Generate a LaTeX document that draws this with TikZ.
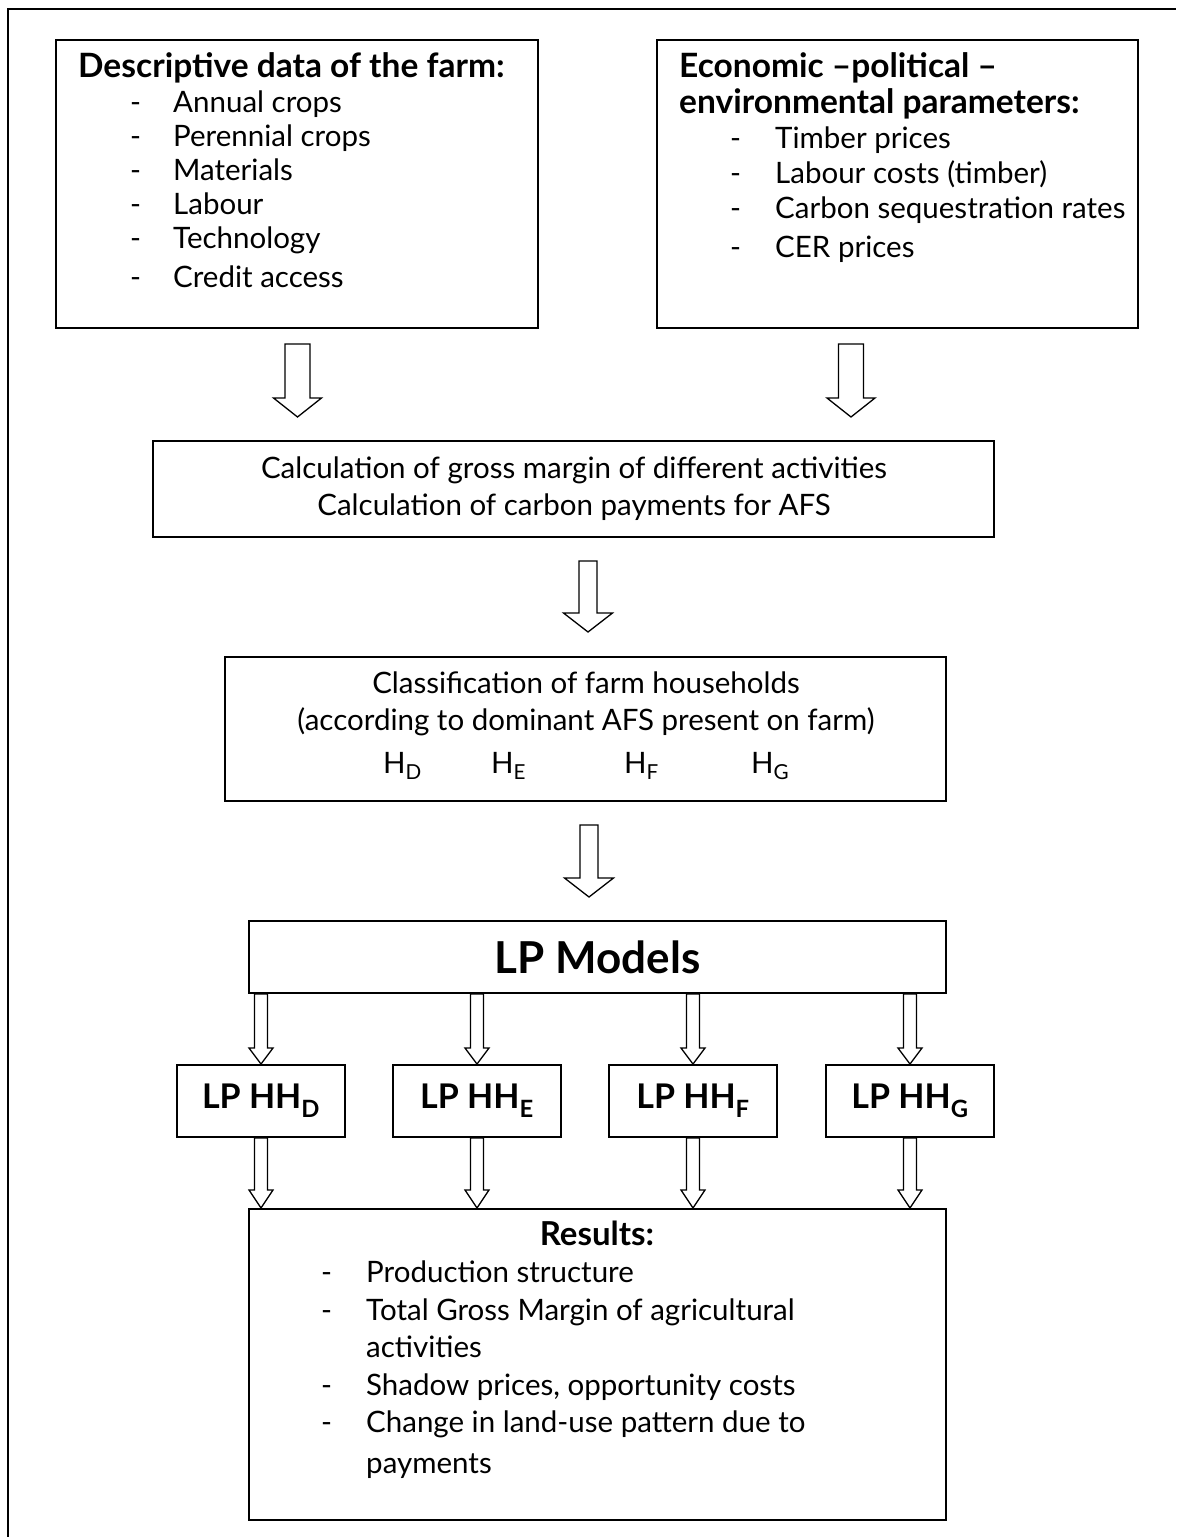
\documentclass[tikz,border=0pt]{standalone}
\usepackage{fontspec}
\setmainfont{Lato}
\usetikzlibrary{calc}
\newcommand{\blockarrow}[5]{% #1 start, #2 tip, #3 shaft half width, #4 head half width, #5 head length
  \draw[arrowline] let \p1=(#1), \p2=(#2) in
    (\x1-#3pt,\y1) -- (\x1+#3pt,\y1) -- (\x1+#3pt,\y2+#5pt) -- (\x1+#4pt,\y2+#5pt)
    -- (\x1,\y2) -- (\x1-#4pt,\y2+#5pt) -- (\x1-#3pt,\y2+#5pt) -- cycle;}
\begin{document}
\begin{tikzpicture}[x=1pt,y=-1pt,
  box/.style={draw,line width=2pt,inner sep=0pt},
  arrowline/.style={draw,line width=1.3pt,line join=miter},
  regtext/.style={inner sep=0pt,font=\fontsize{29.5}{37}\selectfont},
  item/.style={regtext,anchor=base west},
  boldtitle/.style={inner sep=0pt,anchor=base west,font=\fontsize{33.5}{36}\selectfont\bfseries},
  hhlabel/.style={font=\fontsize{34}{36}\selectfont\bfseries}]
\useasboundingbox (0,0) rectangle (1176,1537);
% outer frame (only top and left edges visible)
\draw[line width=2.3pt] (8,1537) -- (8,9) -- (1176,9);

% boxes
\node[box,minimum width=482pt,minimum height=288pt] (b1) at (297,184) {};
\node[box,minimum width=481pt,minimum height=288pt] (b2) at (897.5,184) {};
\node[box,minimum width=841pt,minimum height=96pt] (calc) at (573.5,489) {};
\node[box,minimum width=721pt,minimum height=144pt] (cls) at (585.5,729) {};
\node[box,minimum width=697pt,minimum height=72pt,font=\fontsize{44}{48}\selectfont\bfseries] (lp) at (597.5,957) {LP Models};
\node[box,minimum width=168pt,minimum height=72pt,hhlabel] (hhD) at (261,1101) {LP HH\textsubscript{D}};
\node[box,minimum width=168pt,minimum height=72pt,hhlabel] (hhE) at (477,1101) {LP HH\textsubscript{E}};
\node[box,minimum width=168pt,minimum height=72pt,hhlabel] (hhF) at (693,1101) {LP HH\textsubscript{F}};
\node[box,minimum width=168pt,minimum height=72pt,hhlabel] (hhG) at (910,1101) {LP HH\textsubscript{G}};
\node[box,minimum width=697pt,minimum height=311pt] (res) at (597.5,1364.5) {};

% box 1 text
\node[boldtitle] (t1) at (78,77) {Descriptive data of the farm:};
\foreach \yy/\lbl [count=\i] in {112/Annual crops,146/Perennial crops,180/Materials,214/Labour,248/Technology,287/Credit access}{
  \node[item] (d1\i) at (130,\yy) {-};
  \node[item] (i1\i) at (173,\yy) {\lbl};}

% box 2 text
\node[boldtitle] (t2a) at (679,77) {Economic –political –};
\node[boldtitle] (t2b) at (679,113) {environmental parameters:};
\foreach \yy/\lbl [count=\i] in {148/Timber prices,183/Labour costs (timber),218/Carbon sequestration rates,257/CER prices}{
  \node[item] (d2\i) at (730,\yy) {-};
  \node[item] (i2\i) at (775,\yy) {\lbl};}

% calculation text
\node[regtext,anchor=base] (k1) at (574,478) {Calculation of gross margin of different activities};
\node[regtext,anchor=base] (k2) at (574,515) {Calculation of carbon payments for AFS};

% classification text
\node[regtext,anchor=base] (c1) at (586,693) {Classification of farm households};
\node[regtext,anchor=base] (c2) at (586,730) {(according to dominant AFS present on farm)};
\node[item] (hD) at (383,773) {H\textsubscript{D}};
\node[item] (hE) at (491,773) {H\textsubscript{E}};
\node[item] (hF) at (624,773) {H\textsubscript{F}};
\node[item] (hG) at (751,773) {H\textsubscript{G}};

% results text
\node[inner sep=0pt,anchor=base,font=\fontsize{33}{36}\selectfont\bfseries] (rt) at (597,1245) {Results:};
\foreach \yy in {1282,1320,1395,1432}{\node[item] at (321,\yy) {-};}
\node[item] (r1) at (366,1282) {Production structure};
\node[item] (r2) at (366,1320) {Total Gross Margin of agricultural};
\node[item] (r3) at (366,1357) {activities};
\node[item] (r4) at (366,1395) {Shadow prices, opportunity costs};
\node[item] (r5) at (366,1432) {Change in land-use pattern due to};
\node[item] (r6) at (366,1473) {payments};

% arrow anchor coordinates
\coordinate (a1s) at (297.5,344);  \coordinate (a1t) at (297.5,417);
\coordinate (a2s) at (851,344);    \coordinate (a2t) at (851,417);
\coordinate (a3s) at (588,561);    \coordinate (a3t) at (588,632);
\coordinate (a4s) at (589,825);    \coordinate (a4t) at (589,897);

\blockarrow{a1s}{a1t}{12.5}{24}{19}
\blockarrow{a2s}{a2t}{12.5}{24}{19}
\blockarrow{a3s}{a3t}{9}{24.5}{19}
\blockarrow{a4s}{a4t}{9}{24.5}{19}

% LP models -> household models -> results
\foreach \hh in {hhD,hhE,hhF,hhG}{
  \coordinate (top\hh) at (lp.south -| \hh);
  \coordinate (bot\hh) at (res.north -| \hh);
  \blockarrow{top\hh}{\hh.north}{6.5}{12}{16}
  \blockarrow{\hh.south}{bot\hh}{6.5}{12}{18}}
\end{tikzpicture}
\end{document}
